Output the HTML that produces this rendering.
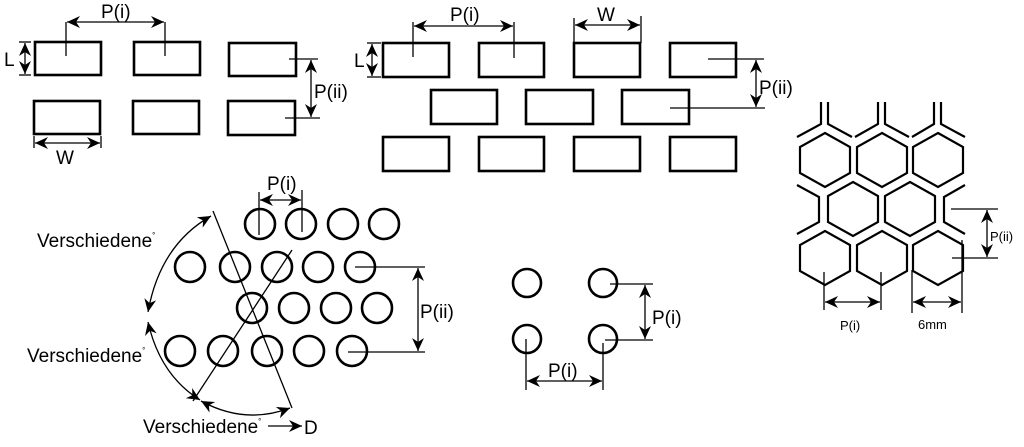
<!DOCTYPE html>
<html><head><meta charset="utf-8"><style>html,body{margin:0;padding:0;background:#fff}svg{display:block}</style></head><body>
<svg width="1024" height="447" viewBox="0 0 1024 447" xmlns="http://www.w3.org/2000/svg" font-family="Liberation Sans, sans-serif">
<defs>
<marker id="a" markerUnits="userSpaceOnUse" markerWidth="14" markerHeight="12" refX="13" refY="6" orient="auto-start-reverse"><path d="M0,0 L13,6 L0,12 L4,6 Z" fill="#000"/></marker>
<path id="hx" d="M0,-27 L25,-13 L25,13 L0,27 L-25,13 L-25,-13 Z"/>
</defs>
<g fill="none" stroke="#000" stroke-width="2.6">
<rect x="35" y="42" width="66" height="33"/><rect x="134" y="42" width="66" height="33"/><rect x="229" y="43" width="67" height="33"/>
<rect x="34" y="101" width="66" height="33"/><rect x="133" y="101" width="66" height="33"/><rect x="228" y="101" width="67" height="34"/>
<rect x="383" y="43" width="66" height="34"/><rect x="479" y="43" width="65" height="34"/><rect x="574" y="43" width="66" height="34"/><rect x="670" y="43" width="66" height="34"/>
<rect x="431" y="90" width="66" height="34"/><rect x="526" y="90" width="67" height="34"/><rect x="622" y="90" width="67" height="34"/>
<rect x="383" y="137" width="66" height="34"/><rect x="479" y="137" width="65" height="34"/><rect x="574" y="137" width="66" height="34"/><rect x="670" y="137" width="66" height="34"/>
<circle cx="260" cy="224" r="15"/><circle cx="301" cy="224" r="15"/><circle cx="343" cy="224" r="15"/><circle cx="384" cy="224" r="15"/>
<circle cx="190" cy="267" r="15"/><circle cx="235" cy="267" r="15"/><circle cx="277" cy="267" r="15"/><circle cx="318" cy="267" r="15"/><circle cx="360" cy="267" r="15"/>
<circle cx="252" cy="308" r="15"/><circle cx="294" cy="308" r="15"/><circle cx="336" cy="308" r="15"/><circle cx="377" cy="308" r="15"/>
<circle cx="180" cy="351" r="15"/><circle cx="223" cy="351" r="15"/><circle cx="267" cy="351" r="15"/><circle cx="309" cy="351" r="15"/><circle cx="352" cy="351" r="15"/>
<circle cx="527" cy="283" r="14"/><circle cx="603" cy="283" r="14"/><circle cx="527" cy="339" r="14"/><circle cx="603" cy="339" r="14"/>
</g>
<g fill="none" stroke="#000" stroke-width="2.2">
<use href="#hx" x="825" y="160"/><use href="#hx" x="882" y="160"/><use href="#hx" x="938" y="160"/>
<use href="#hx" x="853" y="209"/><use href="#hx" x="910" y="209"/>
<use href="#hx" x="825" y="258"/><use href="#hx" x="882" y="258"/><use href="#hx" x="938" y="258"/>
<path d="M821,102 V124 L797,137 M828,102 V124 L852,137 M878,102 V124 L855,137 M885,102 V124 L909,137 M934,102 V124 L912,137 M941,102 V124 L965,137"/>
<path d="M797,185 L819,197 V222 L797,234 M965,185 L944,197 V222 L965,234"/>
</g>
<g stroke="#000" stroke-width="1.3" fill="none">
<line x1="66" y1="22" x2="66" y2="56"/><line x1="165" y1="22" x2="165" y2="56"/>
<line x1="67" y1="22" x2="164" y2="22" marker-start="url(#a)" marker-end="url(#a)"/>
<line x1="19" y1="42" x2="31" y2="42"/><line x1="19" y1="75" x2="31" y2="75"/>
<line x1="25" y1="43" x2="25" y2="74" marker-start="url(#a)" marker-end="url(#a)"/>
<line x1="34" y1="136" x2="34" y2="148"/><line x1="101" y1="136" x2="101" y2="148"/>
<line x1="35" y1="143" x2="100" y2="143" marker-start="url(#a)" marker-end="url(#a)"/>
<line x1="289" y1="59" x2="318" y2="59"/><line x1="285" y1="118" x2="320" y2="118"/>
<line x1="311" y1="60" x2="311" y2="117" marker-start="url(#a)" marker-end="url(#a)"/>
<line x1="413" y1="22" x2="413" y2="57"/><line x1="514" y1="22" x2="514" y2="58"/>
<line x1="414" y1="26" x2="513" y2="26" marker-start="url(#a)" marker-end="url(#a)"/>
<line x1="574" y1="18" x2="574" y2="43"/><line x1="641" y1="16" x2="641" y2="43"/>
<line x1="575" y1="25" x2="640" y2="25" marker-start="url(#a)" marker-end="url(#a)"/>
<line x1="367" y1="43" x2="381" y2="43"/><line x1="367" y1="77" x2="381" y2="77"/>
<line x1="372" y1="44" x2="372" y2="76" marker-start="url(#a)" marker-end="url(#a)"/>
<line x1="708" y1="59" x2="764" y2="59"/><line x1="670" y1="108" x2="765" y2="108"/>
<line x1="756" y1="60" x2="756" y2="107" marker-start="url(#a)" marker-end="url(#a)"/>
<line x1="259" y1="192" x2="259" y2="235"/><line x1="302" y1="190" x2="302" y2="232"/>
<line x1="260" y1="200" x2="301" y2="200" marker-start="url(#a)" marker-end="url(#a)"/>
<line x1="213" y1="211" x2="292" y2="408"/>
<line x1="193" y1="401" x2="292" y2="250"/>
<path d="M211,216 Q160,245 148,312" marker-start="url(#a)" marker-end="url(#a)"/>
<path d="M148,322 Q160,375 200,400" marker-start="url(#a)" marker-end="url(#a)"/>
<path d="M201,401 Q245,425 290,408" marker-start="url(#a)" marker-end="url(#a)"/>
<line x1="268" y1="426" x2="302" y2="426" marker-end="url(#a)"/>
<line x1="355" y1="267" x2="425" y2="267"/><line x1="348" y1="352" x2="425" y2="352"/>
<line x1="418" y1="268" x2="418" y2="351" marker-start="url(#a)" marker-end="url(#a)"/>
<line x1="610" y1="284" x2="653" y2="284"/><line x1="605" y1="340" x2="653" y2="340"/>
<line x1="645" y1="285" x2="645" y2="339" marker-start="url(#a)" marker-end="url(#a)"/>
<line x1="526" y1="339" x2="526" y2="390"/><line x1="603" y1="343" x2="603" y2="390"/>
<line x1="527" y1="381" x2="602" y2="381" marker-start="url(#a)" marker-end="url(#a)"/>
<line x1="824" y1="272" x2="824" y2="310"/><line x1="881" y1="272" x2="881" y2="310"/>
<line x1="825" y1="302" x2="880" y2="302" marker-start="url(#a)" marker-end="url(#a)"/>
<line x1="912" y1="270" x2="912" y2="313"/><line x1="962" y1="240" x2="962" y2="313"/>
<line x1="913" y1="302" x2="961" y2="302" marker-start="url(#a)" marker-end="url(#a)"/>
<line x1="951" y1="209" x2="998" y2="209"/><line x1="952" y1="258" x2="998" y2="258"/>
<line x1="987" y1="210" x2="987" y2="257" marker-start="url(#a)" marker-end="url(#a)"/>
</g>
<g fill="#000" font-size="19">
<text x="101" y="18">P(i)</text>
<text x="4" y="66">L</text>
<text x="56" y="164">W</text>
<text x="314" y="98">P(ii)</text>
<text x="450" y="21">P(i)</text>
<text x="597" y="21">W</text>
<text x="354" y="67">L</text>
<text x="759" y="94">P(ii)</text>
<text x="267" y="190">P(i)</text>
<text x="37" y="247">Verschiedene<tspan font-size="8" dy="-9">°</tspan></text>
<text x="27" y="362">Verschiedene<tspan font-size="8" dy="-9">°</tspan></text>
<text x="143" y="433">Verschiedene<tspan font-size="8" dy="-9">°</tspan></text>
<text x="304" y="434">D</text>
<text x="420" y="318">P(ii)</text>
<text x="652" y="324">P(i)</text>
<text x="548" y="377">P(i)</text>
<text x="840" y="330" font-size="13">P(i)</text>
<text x="918" y="329" font-size="13">6mm</text>
<text x="990" y="241" font-size="13">P(ii)</text>
</g>
</svg>
</body></html>
